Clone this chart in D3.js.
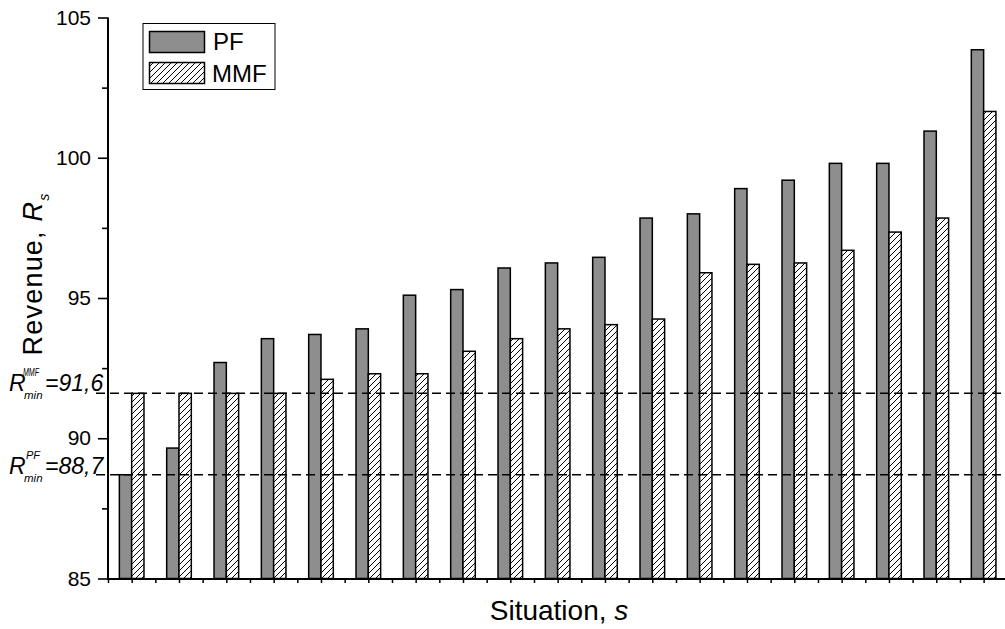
<!DOCTYPE html>
<html><head><meta charset="utf-8">
<script src="https://cdn.jsdelivr.net/npm/d3@7"></script>
<style>
html,body{margin:0;padding:0;background:#fff;}
svg{display:block;font-family:"Liberation Sans",Arial,sans-serif;}
</style></head>
<body>
<svg id="chart" width="1005" height="629"></svg>
<script>
const situations = d3.range(1, 20);
const pfValues  = [88.7, 89.65, 92.7, 93.55, 93.7, 93.9, 95.1, 95.3, 96.07, 96.25, 96.45, 97.85, 98.0, 98.9, 99.2, 99.8, 99.8, 100.95, 103.85];
const mmfValues = [91.6, 91.6, 91.6, 91.6, 92.1, 92.3, 92.3, 93.1, 93.55, 93.9, 94.05, 94.25, 95.9, 96.2, 96.25, 96.7, 97.35, 97.85, 101.65];
const yMajorTicks = [85, 90, 95, 100, 105];
const yMinorTicks = [87.5, 92.5, 97.5, 102.5];
const rMinPF = 88.7;
const rMinMMF = 91.6;
const seriesNames = ["PF", "MMF"];

const svg = d3.select("#chart");
const pLeft = 108, pRight = 1007.3, pTop = 17.5, pBottom = 578.5;

const x = d3.scaleBand().domain(situations).range([pLeft, pRight]).padding(0);
const y = d3.scaleLinear().domain([85, 105]).range([pBottom, pTop]);
const bw = x.bandwidth() * 0.26;

const defs = svg.append("defs");
const pat = defs.append("pattern").attr("id", "hatch").attr("patternUnits", "userSpaceOnUse")
  .attr("width", 6).attr("height", 6);
pat.append("rect").attr("width", 6).attr("height", 6).attr("fill", "#fff");
pat.append("path").attr("d", "M-1,1 L1,-1 M0,6 L6,0 M5,7 L7,5").attr("stroke", "#000").attr("stroke-width", 1);

// bars
svg.append("g").selectAll("rect").data(situations).join("rect")
  .attr("x", d => x(d) + x.bandwidth() / 2 - bw)
  .attr("y", (d, i) => y(pfValues[i]))
  .attr("width", bw)
  .attr("height", (d, i) => y(85) - y(pfValues[i]))
  .attr("fill", "#8e8e8e").attr("stroke", "#000").attr("stroke-width", 1.5);
svg.append("g").selectAll("rect").data(situations).join("rect")
  .attr("x", d => x(d) + x.bandwidth() / 2)
  .attr("y", (d, i) => y(mmfValues[i]))
  .attr("width", bw)
  .attr("height", (d, i) => y(85) - y(mmfValues[i]))
  .attr("fill", "url(#hatch)").attr("stroke", "#000").attr("stroke-width", 1.5);

// dashed reference lines
[rMinMMF, rMinPF].forEach(v => {
  svg.append("line").attr("x1", 96).attr("x2", 1005).attr("y1", y(v)).attr("y2", y(v))
    .attr("stroke", "#000").attr("stroke-width", 1.5).attr("stroke-dasharray", "9,5");
});

// y axis
const yAxis = svg.append("g").attr("transform", `translate(${pLeft},0)`)
  .call(d3.axisLeft(y).tickValues(yMajorTicks).tickSize(10).tickPadding(7).tickFormat(d3.format("d")));
yAxis.select(".domain").attr("stroke-width", 2).attr("d", `M0,${pBottom + 1}V${pTop}`);
yAxis.selectAll(".tick line").attr("stroke-width", 1.6);
yAxis.selectAll(".tick text").attr("font-size", 21).attr("font-family", "Liberation Sans, Arial, sans-serif").attr("fill", "#000");
const yMinor = svg.append("g").attr("transform", `translate(${pLeft},0)`)
  .call(d3.axisLeft(y).tickValues(yMinorTicks).tickSize(6).tickFormat(""));
yMinor.select(".domain").remove();
yMinor.selectAll(".tick line").attr("stroke-width", 1.6);

// x axis
const xTickPos = [];
situations.forEach(d => { xTickPos.push(x(d)); xTickPos.push(x(d) + x.bandwidth() / 2); });
const xLin = d3.scaleLinear().domain([pLeft, pRight]).range([pLeft, pRight]);
const xAxis = svg.append("g").attr("transform", `translate(0,${pBottom + 0.5})`)
  .call(d3.axisBottom(xLin).tickValues(xTickPos).tickSize(4).tickFormat(""));
xAxis.select(".domain").attr("stroke-width", 2).attr("d", `M${pLeft - 1},0H1005`);
xAxis.selectAll(".tick line").attr("stroke-width", 1.5);

// axis titles
const xt = svg.append("text").attr("x", 559).attr("y", 620).attr("text-anchor", "middle")
  .attr("font-size", 28).attr("fill", "#000");
xt.append("tspan").text("Situation, ");
xt.append("tspan").attr("font-style", "italic").text("s");

const yt = svg.append("text").attr("transform", "translate(42,274) rotate(-90)")
  .attr("text-anchor", "middle").attr("font-size", 27).attr("letter-spacing", 1.2).attr("fill", "#000");
yt.append("tspan").text("Revenue, ");
yt.append("tspan").attr("font-style", "italic").text("R");
yt.append("tspan").attr("font-style", "italic").attr("font-size", 14).attr("dy", 7).text("s");

// R_min labels (one text element each, with super/subscripts as tspans)
function rLabel(sup, supX, val, baseY) {
  const t = svg.append("text").attr("font-style", "italic").attr("fill", "#000")
    .attr("x", 9).attr("y", baseY).attr("font-size", 23);
  t.append("tspan").text("R");
  const s = t.append("tspan").attr("x", supX).attr("y", baseY - 15).attr("font-size", 11).text(sup);
  if (sup.length > 2) s.attr("textLength", 16).attr("lengthAdjust", "spacingAndGlyphs");
  t.append("tspan").attr("x", 24).attr("y", baseY + 8).attr("font-size", 11.5).text("min");
  t.append("tspan").attr("x", 45).attr("y", baseY).text("=" + val);
}
rLabel("MMF", 23, "91,6", y(rMinMMF) - 2);
rLabel("PF", 26, "88,7", y(rMinPF) - 1);

// legend
const lg = svg.append("g");
lg.append("rect").attr("x", 143).attr("y", 23.5).attr("width", 132).attr("height", 66)
  .attr("fill", "#fff").attr("stroke", "#000").attr("stroke-width", 1);
lg.append("rect").attr("x", 149.5).attr("y", 31.5).attr("width", 55).attr("height", 21)
  .attr("fill", "#8e8e8e").attr("stroke", "#000").attr("stroke-width", 1.5);
lg.append("rect").attr("x", 149.5).attr("y", 62.5).attr("width", 55).attr("height", 21)
  .attr("fill", "url(#hatch)").attr("stroke", "#000").attr("stroke-width", 1.5);
lg.append("text").attr("x", 213).attr("y", 50).attr("font-size", 24).text(seriesNames[0]);
lg.append("text").attr("x", 212).attr("y", 81.5).attr("font-size", 24).text(seriesNames[1]);
</script>
</body></html>
